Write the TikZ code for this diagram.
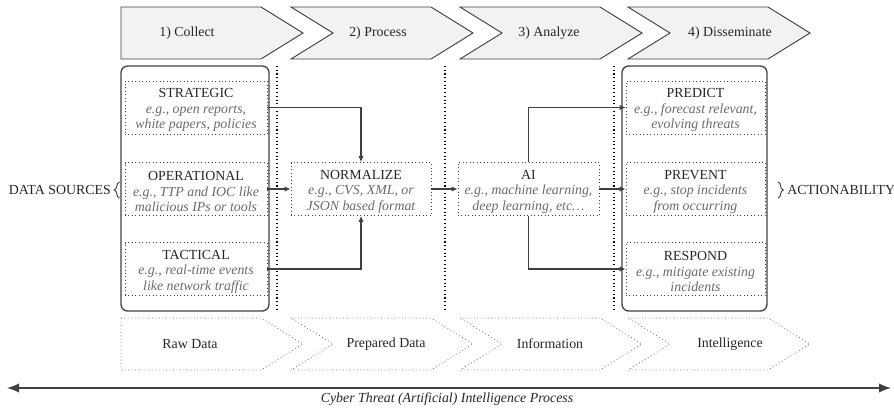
\documentclass[tikz,border=0pt]{standalone}
\usepackage{fontspec}
\setmainfont{Liberation Serif}
\usetikzlibrary{arrows.meta,decorations.pathreplacing}
\definecolor{edge}{HTML}{404040}
\definecolor{chfill}{HTML}{F2F2F2}
\definecolor{subtxt}{HTML}{6A6A6A}
\definecolor{dotgray}{HTML}{6E6E6E}
\newcommand{\egline}[1]{{\itshape\color{subtxt}#1}}
\newcommand{\ttl}[1]{\rule{0pt}{11pt}#1}
\tikzset{
  stagebox/.style={draw=edge, fill=chfill, line width=0.7pt, line join=miter},
  statebox/.style={draw=dotgray, dotted, line width=0.6pt},
  colbox/.style={draw=edge, rounded corners=5pt, line width=1pt, inner sep=0pt},
  itembox/.style={draw=edge, dotted, line width=0.6pt, align=center, inner sep=0pt,
    minimum height=39.75pt, text=black!85},
  sepline/.style={draw=black, dotted, line width=0.8pt},
  link/.style={draw=edge, line width=0.8pt, -{Latex[length=4.5pt,width=4pt]}},
  lbl/.style={inner sep=0pt, text=black!85},
}
\begin{document}
\begin{tikzpicture}[x=0.75pt,y=-0.75pt, every node/.style={font=\fontsize{10.4pt}{11.7pt}\selectfont}]
\useasboundingbox (0,0) rectangle (894,408);

% stage chevrons (top)
\draw[stagebox] (121,7) -- (261,7) -- (303,33) -- (261,59) -- (121,59) -- cycle;
\draw[stagebox] (291,7) -- (431,7) -- (473,33) -- (431,59) -- (291,59) -- (333,33) -- cycle;
\draw[stagebox] (460,7) -- (600,7) -- (642,33) -- (600,59) -- (460,59) -- (502,33) -- cycle;
\draw[stagebox] (628,7) -- (768,7) -- (810,33) -- (768,59) -- (628,59) -- (670,33) -- cycle;
\node[lbl] (st1) at (187,33) {1) Collect};
\node[lbl] (st2) at (378,33) {2) Process};
\node[lbl] (st3) at (549,33) {3) Analyze};
\node[lbl] (st4) at (730,33) {4) Disseminate};

% state chevrons (bottom)
\draw[statebox] (121,318) -- (261,318) -- (303,344) -- (261,370) -- (121,370) -- cycle;
\draw[statebox] (291,318) -- (431,318) -- (473,344) -- (431,370) -- (291,370) -- (333,344) -- cycle;
\draw[statebox] (460,318) -- (600,318) -- (642,344) -- (600,370) -- (460,370) -- (502,344) -- cycle;
\draw[statebox] (628,318) -- (768,318) -- (810,344) -- (768,370) -- (628,370) -- (670,344) -- cycle;
\node[lbl] (sb1) at (190,344) {Raw Data};
\node[lbl] (sb2) at (386,344) {Prepared Data};
\node[lbl] (sb3) at (550,344) {Information};
\node[lbl] (sb4) at (730,344) {Intelligence};

% column separators
\draw[sepline] (277,66) -- (277,312);
\draw[sepline] (445,66) -- (445,312);
\draw[sepline] (614,66) -- (614,312);

% outer column boxes
\node[colbox, minimum width=111pt, minimum height=183.75pt] (collect) at (195,188.5) {};
\node[colbox, minimum width=108.75pt, minimum height=183.75pt] (dissem) at (694.5,188.5) {};

% data source boxes
\node[itembox, minimum width=106.5pt] (strat) at (196,107.5)
  {\ttl{STRATEGIC}\\\egline{e.g., open reports,}\\\egline{white papers, policies}};
\node[itembox, minimum width=106.5pt] (oper) at (196,189)
  {\ttl{OPERATIONAL}\\\egline{e.g., TTP and IOC like}\\\egline{malicious IPs or tools}};
\node[itembox, minimum width=106.5pt] (tact) at (196,269)
  {\ttl{TACTICAL}\\\egline{e.g., real-time events}\\\egline{like network traffic}};

% processing boxes
\node[itembox, minimum width=105pt] (norm) at (361,189)
  {\ttl{NORMALIZE}\\\egline{e.g., CVS, XML, or}\\\egline{JSON based format}};
\node[itembox, minimum width=105.75pt] (ai) at (528.5,189)
  {\ttl{AI}\\\egline{e.g., machine learning,}\\\egline{deep learning, etc\dots}};

% actionability boxes
\node[itembox, minimum width=104.25pt] (pred) at (695.5,107.5)
  {\ttl{PREDICT}\\\egline{e.g., forecast relevant,}\\\egline{evolving threats}};
\node[itembox, minimum width=104.25pt] (prev) at (695.5,189)
  {\ttl{PREVENT}\\\egline{e.g., stop incidents}\\\egline{from occurring}};
\node[itembox, minimum width=104.25pt] (resp) at (695.5,269)
  {\ttl{RESPOND}\\\egline{e.g., mitigate existing}\\\egline{incidents}};

% flow connectors
\draw[link] (strat.east) -| (norm.north);
\draw[link] (tact.east) -| (norm.south);
\draw[link] (oper.east) -- (norm.west);
\draw[link] (norm.east) -- (ai.west);
\draw[link] (ai.north) |- (pred.west);
\draw[link] (ai.east) -- (prev.west);
\draw[link] (ai.south) |- (resp.west);

% side labels with braces
\draw[draw=edge, line width=0.7pt, decorate, decoration={brace, amplitude=4pt}]
  (119.5,198) -- (119.5,182);
\node[lbl, anchor=east] (dsrc) at (111,190) {DATA SOURCES};
\draw[draw=edge, line width=0.7pt, decorate, decoration={brace, amplitude=4pt}]
  (778,182) -- (778,198);
\node[lbl, anchor=west] (act) at (787,190) {ACTIONABILITY};

% overall process axis
\coordinate (pstart) at (7,388);
\coordinate (pend) at (891,388);
\draw[draw=edge, line width=1pt, {Latex[length=9pt,width=7pt]}-{Latex[length=9pt,width=7pt]}]
  (pstart) -- (pend);
\node[lbl, font=\fontsize{10.4pt}{11.7pt}\selectfont\itshape] (proc) at (447,399.5)
  {Cyber Threat (Artificial) Intelligence Process};
\end{tikzpicture}
\end{document}
